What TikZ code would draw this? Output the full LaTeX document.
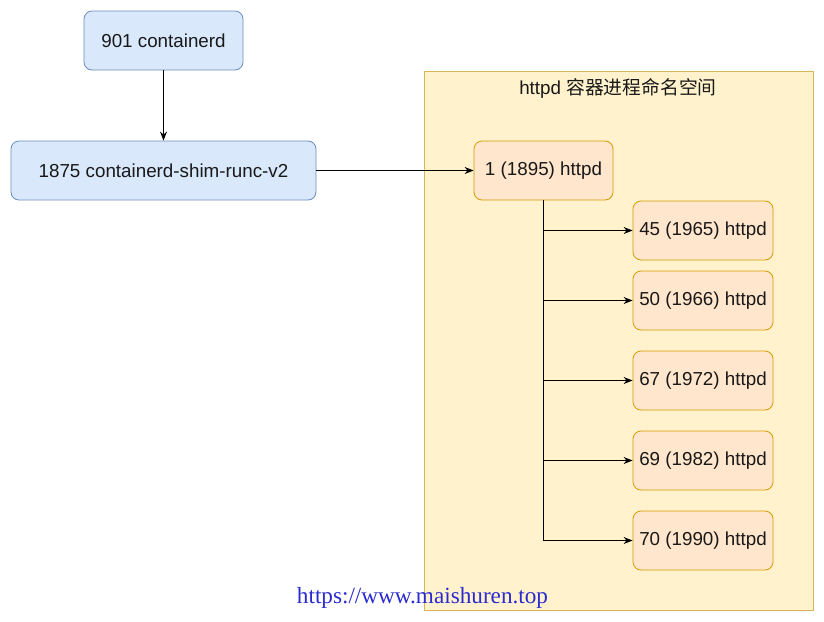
\documentclass[tikz,border=0pt]{standalone}
\usepackage{fontspec}
\setmainfont{Liberation Sans}
\newfontfamily\cjk{Noto Sans CJK SC}
\newfontfamily\wmfont{Liberation Serif}
\usetikzlibrary{arrows.meta}
\definecolor{bluefill}{HTML}{DAE8FC}
\definecolor{bluedraw}{HTML}{6C8EBF}
\definecolor{orfill}{HTML}{FFE6CC}
\definecolor{ordraw}{HTML}{D79B00}
\definecolor{yfill}{HTML}{FFF2CC}
\definecolor{ydraw}{HTML}{D6B656}
\definecolor{wmblue}{HTML}{2B2BD0}
\begin{document}
\begin{tikzpicture}[x=1pt,y=-1pt,
  every node/.style={font=\fontsize{18.8}{22}\selectfont, text=black!90},
  bluebox/.style={draw=bluedraw, fill=bluefill, rounded corners=8pt, line width=0.8pt, inner sep=0pt, minimum height=59pt},
  orbox/.style={draw=ordraw, fill=orfill, rounded corners=8pt, line width=0.8pt, inner sep=0pt, minimum height=59pt, minimum width=140pt},
  conn/.style={draw=black, line width=0.9pt, -{Stealth[length=9pt,width=7pt]}},
  plain/.style={draw=black, line width=0.8pt}]
\useasboundingbox (0,0) rectangle (824,621);
\fill[white] (0,0) rectangle (824,621);
% container
\node[draw=ydraw, fill=yfill, line width=0.8pt, minimum width=389pt, minimum height=539pt, inner sep=0pt] (ns) at (618.5,340.5) {};
\node (title) at (618,88) {httpd {\cjk 容器进程命名空间}};
% nodes
\node[bluebox, minimum width=159pt] (cd) at (163.5,40.5) {901 containerd};
\node[bluebox, minimum width=305pt] (shim) at (163.5,170.5) {1875 containerd-shim-runc-v2};
\node[orbox, minimum width=139pt] (p1) at (543.5,170.5) {1 (1895) httpd};
\node[orbox] (p45) at (703,230.5) {45 (1965) httpd};
\node[orbox] (p50) at (703,300.5) {50 (1966) httpd};
\node[orbox] (p67) at (703,380.5) {67 (1972) httpd};
\node[orbox] (p69) at (703,460.5) {69 (1982) httpd};
\node[orbox] (p70) at (703,540.5) {70 (1990) httpd};
% connectors
\draw[conn] (cd) -- (shim);
\draw[conn] (shim) -- (p1);
\draw[conn] (p1.south) |- (p45.west);
\draw[conn] (p1.south) |- (p50.west);
\draw[conn] (p1.south) |- (p67.west);
\draw[conn] (p1.south) |- (p69.west);
\draw[conn] (p1.south) |- (p70.west);
% watermark
\node[font=\wmfont\fontsize{23.2}{27}\selectfont, text=wmblue] (wm) at (422.5,598) {https://www.maishuren.top};
\end{tikzpicture}
\end{document}
